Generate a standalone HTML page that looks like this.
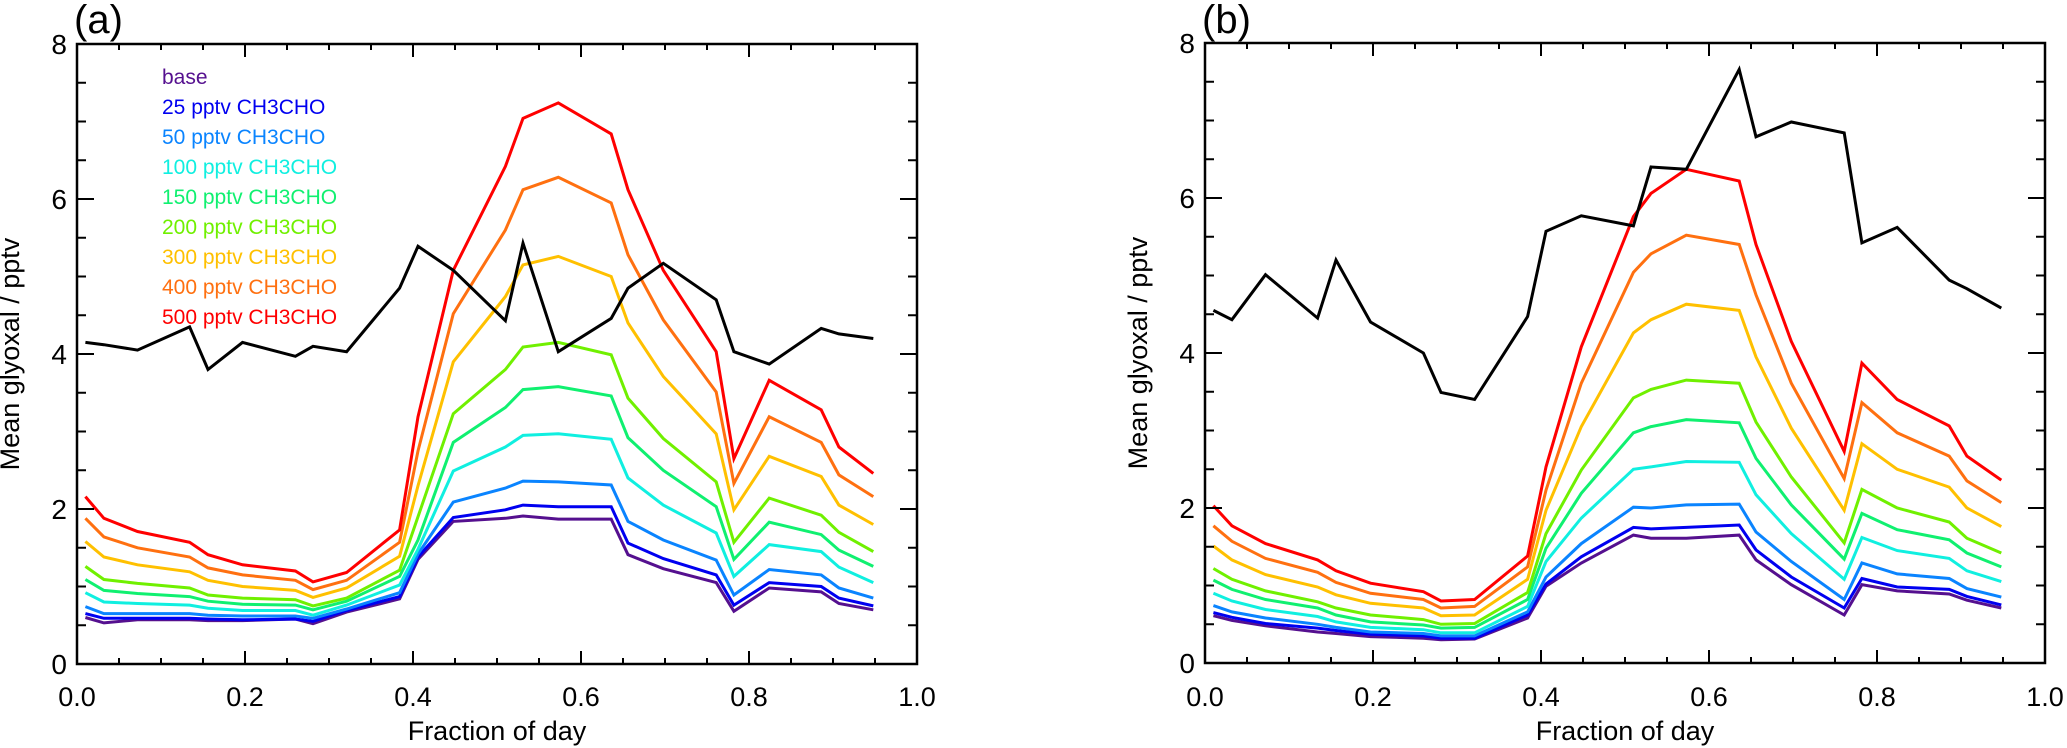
<!DOCTYPE html>
<html><head><meta charset="utf-8"><style>
html,body{margin:0;padding:0;background:#fff}
svg{display:block;font-family:"Liberation Sans",Arial,sans-serif}
</style></head><body>
<svg id="chart" width="2067" height="748" viewBox="0 0 2067 748" xmlns="http://www.w3.org/2000/svg"></svg>
<script>
const xFrac=[0.010,0.032,0.072,0.134,0.156,0.197,0.26,0.281,0.321,0.384,0.406,0.448,0.51,0.531,0.573,0.636,0.656,0.698,0.761,0.782,0.824,0.886,0.907,0.948];
const seriesNames=["base","25 pptv CH3CHO","50 pptv CH3CHO","100 pptv CH3CHO","150 pptv CH3CHO","200 pptv CH3CHO","300 pptv CH3CHO","400 pptv CH3CHO","500 pptv CH3CHO"];
const seriesColors=["#55108f","#0000f0","#0a84ff","#10efe0","#10f070","#70f000","#ffc000","#ff7010","#ff0000"];
const obsA=[4.15,4.12,4.05,4.35,3.8,4.15,3.97,4.1,4.03,4.85,5.39,5.08,4.43,5.43,4.03,4.46,4.85,5.17,4.7,4.03,3.87,4.33,4.26,4.2];
const baseA=[0.6,0.53,0.57,0.57,0.56,0.56,0.58,0.52,0.67,0.84,1.35,1.84,1.88,1.91,1.87,1.87,1.41,1.23,1.05,0.68,0.98,0.93,0.78,0.7];
const p25A=[0.65,0.59,0.59,0.59,0.58,0.57,0.58,0.55,0.69,0.87,1.38,1.89,1.99,2.05,2.03,2.03,1.56,1.36,1.15,0.76,1.05,1.0,0.85,0.75];
const p50A=[0.74,0.65,0.65,0.65,0.63,0.62,0.62,0.59,0.71,0.92,1.42,2.09,2.27,2.36,2.35,2.31,1.84,1.6,1.34,0.89,1.22,1.15,0.98,0.85];
const p100A=[0.92,0.8,0.78,0.76,0.72,0.69,0.69,0.63,0.76,1.02,1.48,2.49,2.8,2.95,2.97,2.9,2.4,2.05,1.69,1.13,1.54,1.45,1.25,1.05];
const p150A=[1.09,0.95,0.91,0.87,0.81,0.77,0.76,0.7,0.81,1.13,1.6,2.86,3.31,3.54,3.58,3.46,2.92,2.5,2.03,1.35,1.83,1.67,1.47,1.26];
const p200A=[1.26,1.09,1.04,0.98,0.89,0.85,0.83,0.75,0.85,1.21,1.9,3.23,3.8,4.09,4.15,3.99,3.43,2.91,2.35,1.57,2.14,1.92,1.7,1.45];
const p300A=[1.58,1.38,1.28,1.19,1.08,1.0,0.95,0.86,0.98,1.39,2.3,3.9,4.74,5.15,5.26,5.0,4.4,3.71,2.97,1.99,2.68,2.42,2.05,1.8];
const p400A=[1.88,1.64,1.5,1.38,1.24,1.15,1.08,0.96,1.08,1.57,2.75,4.52,5.6,6.12,6.28,5.95,5.28,4.44,3.51,2.33,3.19,2.86,2.44,2.16];
const p500A=[2.16,1.88,1.71,1.57,1.41,1.28,1.2,1.06,1.18,1.73,3.19,5.08,6.42,7.04,7.24,6.84,6.12,5.08,4.03,2.65,3.66,3.28,2.8,2.46];
const obsB=[4.55,4.43,5.01,4.45,5.2,4.4,4.0,3.49,3.4,4.47,5.57,5.77,5.64,6.4,6.37,7.66,6.79,6.98,6.84,5.42,5.62,4.94,4.83,4.58];
const baseB=[0.61,0.55,0.48,0.4,0.38,0.34,0.32,0.3,0.31,0.58,0.99,1.29,1.65,1.61,1.61,1.65,1.33,1.01,0.62,1.01,0.93,0.89,0.81,0.71];
const p25B=[0.65,0.59,0.51,0.45,0.42,0.37,0.35,0.32,0.32,0.62,1.02,1.37,1.75,1.73,1.75,1.78,1.46,1.11,0.71,1.09,0.98,0.95,0.86,0.75];
const p50B=[0.74,0.66,0.58,0.5,0.46,0.4,0.38,0.35,0.35,0.66,1.11,1.54,2.01,2.0,2.04,2.05,1.69,1.31,0.82,1.29,1.15,1.09,0.96,0.85];
const p100B=[0.9,0.8,0.69,0.6,0.53,0.46,0.43,0.39,0.39,0.73,1.31,1.87,2.5,2.53,2.6,2.59,2.17,1.67,1.08,1.62,1.45,1.35,1.19,1.05];
const p150B=[1.07,0.95,0.82,0.71,0.62,0.53,0.49,0.45,0.46,0.82,1.48,2.19,2.97,3.05,3.14,3.1,2.64,2.04,1.34,1.93,1.72,1.59,1.42,1.24];
const p200B=[1.22,1.08,0.93,0.79,0.71,0.62,0.56,0.5,0.51,0.91,1.67,2.49,3.42,3.53,3.65,3.61,3.11,2.4,1.55,2.24,2.0,1.82,1.61,1.42];
const p300B=[1.51,1.33,1.14,0.98,0.88,0.77,0.71,0.61,0.62,1.08,1.97,3.05,4.26,4.43,4.63,4.55,3.95,3.03,1.97,2.83,2.5,2.27,2.0,1.76];
const p400B=[1.77,1.57,1.35,1.17,1.04,0.9,0.82,0.71,0.73,1.24,2.23,3.61,5.04,5.28,5.52,5.4,4.75,3.61,2.38,3.36,2.97,2.67,2.35,2.07];
const p500B=[2.03,1.77,1.54,1.33,1.19,1.03,0.92,0.8,0.82,1.38,2.53,4.08,5.76,6.06,6.37,6.22,5.4,4.15,2.73,3.87,3.4,3.06,2.67,2.36];
const xTicks=["0.0","0.2","0.4","0.6","0.8","1.0"];
const yTicks=["0","2","4","6","8"];

const NS="http://www.w3.org/2000/svg";
const svg=document.getElementById('chart');
function mk(tag,attrs,parent){const e=document.createElementNS(NS,tag);for(const k in attrs)e.setAttribute(k,attrs[k]);(parent||svg).appendChild(e);return e;}

function panel(left,top,label,name,obs,models){
  const W=840,H=620,bottom=top+H,right=left+W;
  const sx=v=>left+v*W, sy=v=>bottom-v/8*H;
  const g=mk('g',{});
  
  
  models.forEach((arr,i)=>{
    const p=mk('polyline',{points:arr.map((v,j)=>sx(xFrac[j]).toFixed(1)+','+sy(v).toFixed(1)).join(' '),fill:'none',stroke:seriesColors[i],'stroke-width':3,'stroke-linejoin':'miter'},g);
    
    
  });
  const o=mk('polyline',{points:obs.map((v,j)=>sx(xFrac[j]).toFixed(1)+','+sy(v).toFixed(1)).join(' '),fill:'none',stroke:'#000','stroke-width':3},g);
  
  
  const f=mk('rect',{x:left,y:top,width:W,height:H,fill:'none',stroke:'#000','stroke-width':2.5},g);
  
  
  for(let k=0;k<=20;k++){
    const v=k*0.05, x=sx(v), len=(k%4===0)?13:6;
    mk('line',{x1:x,y1:bottom,x2:x,y2:bottom-len,stroke:'#000','stroke-width':2},g);
    mk('line',{x1:x,y1:top,x2:x,y2:top+len,stroke:'#000','stroke-width':2},g);
  }
  xTicks.forEach((t,i)=>{
    const tx=mk('text',{x:sx(i*0.2),y:706,'font-size':27,'text-anchor':'middle'},g);
    tx.textContent=t;
    
    
  });
  for(let k=0;k<=16;k++){
    const v=k*0.5, y=sy(v), len=(k%4===0)?17:9;
    mk('line',{x1:left,y1:y,x2:left+len,y2:y,stroke:'#000','stroke-width':2},g);
    mk('line',{x1:right,y1:y,x2:right-len,y2:y,stroke:'#000','stroke-width':2},g);
  }
  yTicks.forEach((t,i)=>{
    const ty=mk('text',{x:left-10,y:sy(i*2)+10,'font-size':28,'text-anchor':'end'},g);
    ty.textContent=t;
    
    
  });
  const xt=mk('text',{x:left+W/2,y:740,'font-size':27,'text-anchor':'middle'},g);
  xt.textContent='Fraction of day';
  
  
  const cy=top+H/2, cx=left-58;
  const yt=mk('text',{x:cx,y:cy,'font-size':27,'text-anchor':'middle',transform:`rotate(-90 ${cx} ${cy})`},g);
  yt.textContent='Mean glyoxal / pptv';
  
  
  const pl=mk('text',{x:left-3,y:33,'font-size':40},g);
  pl.textContent=label;
  
  
  return {g,sx,sy};
}
const A=panel(77,44,'(a)','panel-a',obsA,[baseA,p25A,p50A,p100A,p150A,p200A,p300A,p400A,p500A]);
panel(1205,43,'(b)','panel-b',obsB,[baseB,p25B,p50B,p100B,p150B,p200B,p300B,p400B,p500B]);
seriesNames.forEach((n,i)=>{
  const t=mk('text',{x:162,y:84+i*30,'font-size':21,fill:seriesColors[i]},A.g);
  t.textContent=n;
  
  
});
</script>
</body></html>
